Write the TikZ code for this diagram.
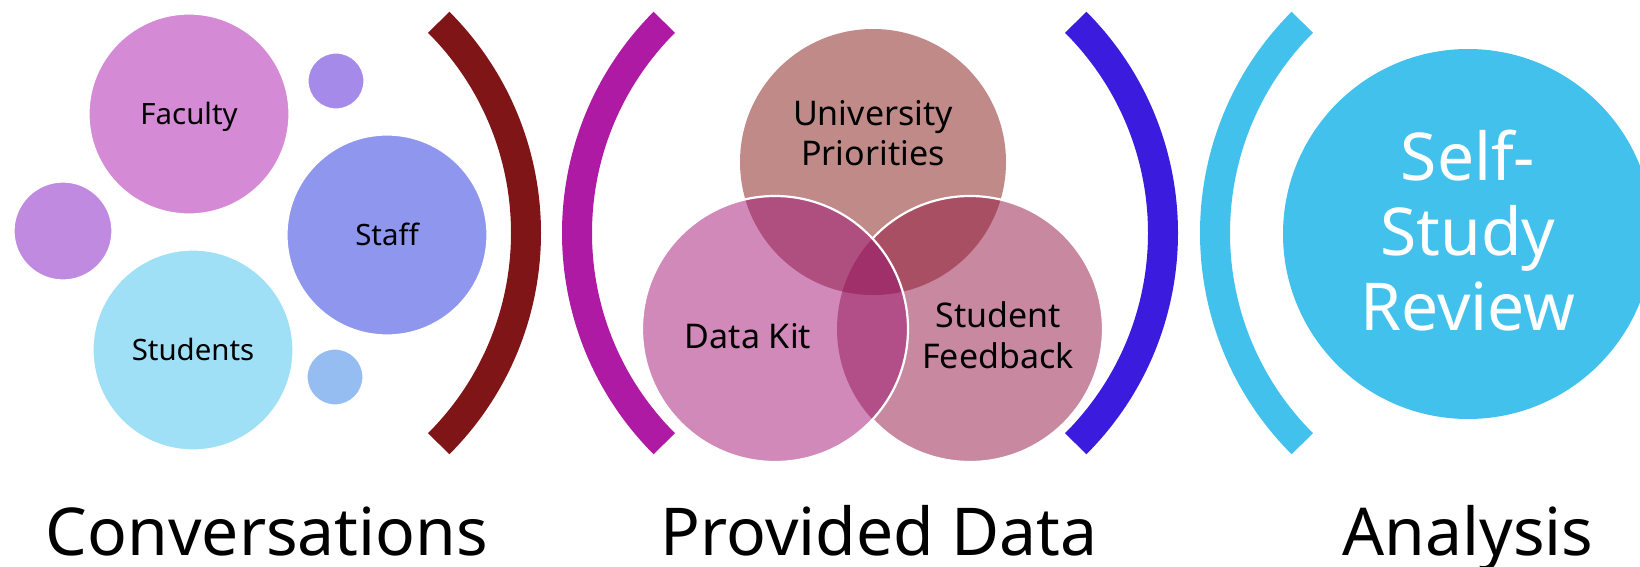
\documentclass[tikz,border=0pt]{standalone}
\usepackage{fontspec}
\setmainfont{Noto Sans}
\definecolor{cFac}{HTML}{D58AD6}
\definecolor{cTopDot}{HTML}{A68AEA}
\definecolor{cLeftDot}{HTML}{C08AE0}
\definecolor{cStaff}{HTML}{8F96EE}
\definecolor{cStud}{HTML}{A0E0F6}
\definecolor{cBotDot}{HTML}{96BDF2}
\definecolor{cArcA}{HTML}{801518}
\definecolor{cArcB}{HTML}{AE1AA3}
\definecolor{cArcC}{HTML}{3B1BDD}
\definecolor{cArcD}{HTML}{41C1EC}
\definecolor{cU}{HTML}{BF8A88}
\definecolor{cD}{HTML}{D089B9}
\definecolor{cS}{HTML}{C889A0}
\definecolor{cUS}{HTML}{A84F64}
\definecolor{cUD}{HTML}{AE4F80}
\definecolor{cDS}{HTML}{B24F88}
\definecolor{cUDS}{HTML}{A0306A}
\begin{document}
\begin{tikzpicture}[x=0.5pt,y=-0.5pt,
  bubble/.style={circle, inner sep=0pt, minimum size=100pt, draw=white, line width=0.6pt,
    font=\fontsize{14.7}{17}\selectfont, text height=10.5pt, text depth=0pt},
  dotc/.style={circle, inner sep=0pt, draw=white, line width=0.6pt},
  vennc/.style={circle, inner sep=0pt, minimum size=133pt},
  vlabel/.style={font=\fontsize{17}{20.5}\selectfont, align=center, anchor=base},
  biglabel/.style={font=\fontsize{33}{37.5}\selectfont, anchor=base},
  bottomlabel/.style={biglabel, inner sep=0pt, text depth=0pt},
  bracket/.style={line width=15pt, line cap=butt}]
\useasboundingbox (0,0) rectangle (1640,567);
\clip (0,0) rectangle (1640,567);
% Conversations group
\node[bubble, fill=cFac] (fac) at (189,114) {Faculty};
\node[dotc, fill=cTopDot, minimum size=28pt] (topdot) at (336,81) {};
\node[dotc, fill=cLeftDot, minimum size=49pt] (leftdot) at (63,231) {};
\node[bubble, fill=cStaff] (staff) at (387,235) {Staff};
\node[bubble, fill=cStud] (stud) at (193,350) {Students};
\node[dotc, fill=cBotDot, minimum size=28pt] (botdot) at (335,377) {};
% brackets
\coordinate (ca) at (228,233);
\coordinate (cb) at (875,233);
\coordinate (cc) at (865,233);
\coordinate (cd) at (1513,233);
\draw[bracket, cArcA] (ca) ++(-45:298) arc[start angle=-45, end angle=45, radius=298];
\draw[bracket, cArcB] (cb) ++(135:298) arc[start angle=135, end angle=225, radius=298];
\draw[bracket, cArcC] (cc) ++(-45:298) arc[start angle=-45, end angle=45, radius=298];
\draw[bracket, cArcD] (cd) ++(135:298) arc[start angle=135, end angle=225, radius=298];
% Venn
\node[vennc, fill=cU] (U) at (873,162) {};
\node[vennc, fill=cS] (S) at (970,329) {};
\begin{scope}
  \clip (U.center) circle[radius=133];
  \fill[cUS] (S.center) circle[radius=133];
\end{scope}
\draw[white, line width=1.1pt] (S.center) circle[radius=133];
\node[vennc, fill=cD] (D) at (775,329) {};
\begin{scope}
  \clip (D.center) circle[radius=133];
  \fill[cUD] (U.center) circle[radius=133];
  \fill[cDS] (S.center) circle[radius=133];
  \clip (U.center) circle[radius=133];
  \fill[cUDS] (S.center) circle[radius=133];
\end{scope}
\draw[white, line width=1.1pt] (D.center) circle[radius=133];
\node[vlabel] (tU) at (873,166) {University\\Priorities};
\node[vlabel] (tD) at (748,348) {Data Kit};
\node[vlabel] (tS) at (998,368) {Student\\Feedback};
% Self-study
\node[circle, inner sep=0pt, minimum size=185pt, fill=cArcD] (ssr) at (1468,234) {};
\node[biglabel, text=white, align=center] (tssr) at (1468,330) {Self-\\Study\\Review};
% bottom labels
\node[bottomlabel] (lconv) at (267,555) {Conversations};
\node[bottomlabel] (lprov) at (879,555) {Provided Data};
\node[bottomlabel] (lana) at (1468,555) {Analysis};
\end{tikzpicture}
\end{document}
